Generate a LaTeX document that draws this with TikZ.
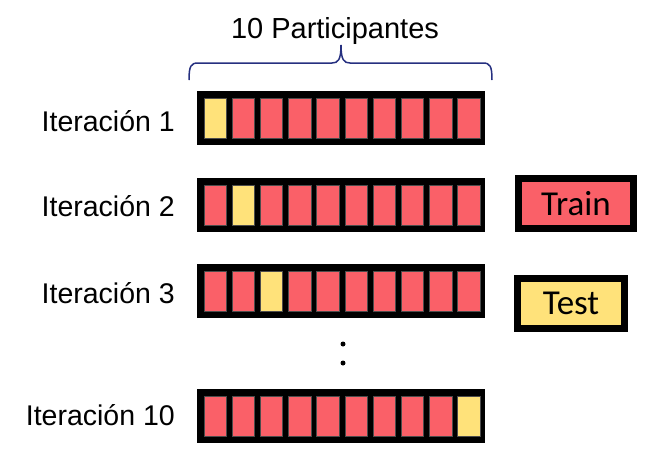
\documentclass[tikz,border=0pt]{standalone}
\usepackage{fontspec}
\setmainfont{Liberation Sans}
\newfontfamily\legfont{Carlito}
\definecolor{trainred}{RGB}{250,96,104}
\definecolor{testyellow}{RGB}{255,226,122}
\definecolor{bracenavy}{RGB}{38,48,128}

\begin{document}
\begin{tikzpicture}
  [x=1pt,y=-1pt,
   bar/.style={fill=black,minimum width=288pt,minimum height=54pt,inner sep=0pt},
   cell/.style={draw=black!70,line width=0.4pt,minimum width=22.5pt,minimum height=40pt,inner sep=0pt},
   lbl/.style={anchor=base east,font=\fontsize{28.5}{34}\selectfont,inner sep=0pt},
   legend/.style={draw=black,line width=7pt,inner sep=0pt,font=\legfont\fontsize{35}{40}\selectfont},
   dot/.style={circle,fill=black,inner sep=0pt,minimum size=5pt}]
  \useasboundingbox (0,0) rectangle (646,459);
  \node[anchor=base,font=\fontsize{29}{34}\selectfont,inner sep=0pt] (title) at (335,38) {10 Participantes};
  \coordinate (bl) at (189,80);
  \coordinate (br) at (492,80);
  \coordinate (tip) at (341,45);
  \draw[bracenavy,line width=1.5pt] (bl) .. controls (189,66) and (191,63) .. (198,63) -- (332,63)
    .. controls (338,63) and (341,60) .. (tip) .. controls (341,60) and (344,63) .. (350,63)
    -- (483,63) .. controls (490,63) and (492,66) .. (br);
  \foreach \r/\y/\b in {1/118/131,2/205/216,3/291/303,10/416/425} {
    \node[lbl] (lab\r) at (175,\b) {Iteración \r};
    \node[bar] (bar\r) at (341,\y) {};
    \foreach \c in {1,...,10} {
      \ifnum\c=\r \def\col{testyellow}\else\def\col{trainred}\fi
      \node[cell,fill=\col] (cell\r-\c) at ({215+(\c-1)*28.2},\y) {};
    }
  }
  \node[dot] (dot1) at (343,344) {};
  \node[dot] (dot2) at (343,363) {};
  \node[legend,fill=trainred,minimum width=115pt,minimum height=50pt] (train) at (576,203.5) {Train};
  \node[legend,fill=testyellow,minimum width=107pt,minimum height=50pt] (test) at (571,303.5) {Test};
\end{tikzpicture}
\end{document}
